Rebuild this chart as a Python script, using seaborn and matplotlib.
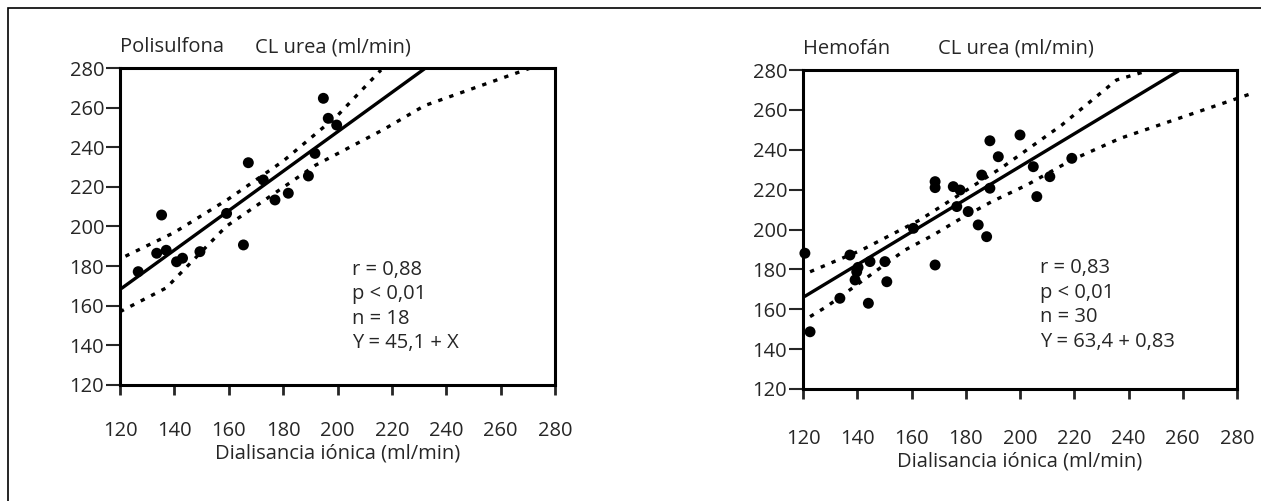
import matplotlib
matplotlib.use('Agg')
import matplotlib.pyplot as plt
import matplotlib.patches as mpatches
import pandas as pd
import seaborn as sns

# Polisulfona: dialisancia ionica (x) vs CL urea (y)
poli_x = [194.8, 196.6, 199.7, 191.7, 167.2, 172.7, 189.3, 177.0, 181.9,
          135.3, 159.2, 149.4, 140.8, 143.0, 133.5, 126.7, 165.4, 137.0]
poli_y = [264.7, 254.6, 251.2, 236.9, 232.2, 223.5, 225.5, 213.4, 216.8,
          205.8, 206.6, 187.3, 182.2, 184.0, 186.5, 177.2, 190.7, 188.0]
poli_fit_x = [120.6, 232.2]
poli_fit_y = [168.8, 279.8]
poli_up_x = [122, 140, 160, 180, 200, 216]
poli_up_y = [185, 197, 214, 233, 256, 279]
poli_lo_x = [120, 137, 159, 192, 217, 232, 271]
poli_lo_y = [157, 169, 200, 231, 249, 261, 280]
poli_stats = ['r = 0,88', 'p < 0,01', 'n = 18', 'Y = 45,1 + X']

# Hemofan
hemo_x = [188.9, 200.0, 192.0, 168.7, 168.7, 175.4, 177.9, 185.9, 188.9, 204.9,
          211.0, 219.1, 206.2, 176.7, 180.9, 184.6, 187.7, 160.7, 168.7, 150.2,
          150.9, 144.1, 137.3, 139.8, 144.7, 133.6, 139.2, 120.7, 122.6, 140.3]
hemo_y = [244.5, 247.4, 236.5, 224.0, 221.0, 221.5, 219.8, 227.3, 220.7, 231.5,
          226.5, 235.7, 216.5, 211.5, 209.0, 202.3, 196.4, 200.6, 182.2, 183.9,
          173.8, 163.0, 187.2, 178.8, 183.9, 165.5, 174.7, 188.1, 148.7, 181.0]
hemo_fit_x = [120.7, 259.0]
hemo_fit_y = [166.5, 280.0]
hemo_up_x = [122.6, 141.6, 163.1, 193.8, 215.4, 235.6, 248.0]
hemo_up_y = [178.8, 189.7, 204.8, 231.5, 252.4, 275.0, 280.0]
hemo_lo_x = [122.6, 128.7, 157.6, 168.0, 177.3, 189.6, 202.5, 219.1, 236.9, 286.0]
hemo_lo_y = [156.3, 161.3, 189.7, 197.2, 204.8, 214.0, 222.3, 234.9, 245.7, 268.5]
hemo_stats = ['r = 0,83', 'p < 0,01', 'n = 30', 'Y = 63,4 + 0,83']

ticks = [120, 140, 160, 180, 200, 220, 240, 260, 280]

sns.set_style('white')
plt.rcParams['font.family'] = ['Open Sans', 'DejaVu Sans']
fs = 14.5

fig = plt.figure(figsize=(12.61, 5.01), dpi=100)

# outer frame (only left and top edges are visible)
fig.patches.append(mpatches.Rectangle((8 / 1261, -0.1), 1.2, 1 - 8 / 501 + 0.1,
                                      transform=fig.transFigure, fill=False,
                                      edgecolor='black', linewidth=1.2))

panels = [
    ([120 / 1261, 1 - 385 / 501, 435 / 1261, 317 / 501], 'Polisulfona',
     poli_x, poli_y, poli_fit_x, poli_fit_y, poli_up_x, poli_up_y,
     poli_lo_x, poli_lo_y, poli_stats, 0.533, 0.363, 19, False),
    ([803 / 1261, 1 - 389 / 501, 434 / 1261, 319 / 501], 'Hemofán',
     hemo_x, hemo_y, hemo_fit_x, hemo_fit_y, hemo_up_x, hemo_up_y,
     hemo_lo_x, hemo_lo_y, hemo_stats, 0.546, 0.379, 21.5, True),
]

for (rect, name, px, py, fx, fy, ux, uy, lx, ly, stats, sx, sy, xpad, lo_out) in panels:
    ax = fig.add_axes(rect)
    df = pd.DataFrame({'x': px, 'y': py})
    sns.scatterplot(data=df, x='x', y='y', ax=ax, color='black', s=62,
                    edgecolor='none', clip_on=False)
    sns.lineplot(x=fx, y=fy, ax=ax, color='black', linewidth=2.4, sort=False)
    sns.lineplot(x=ux, y=uy, ax=ax, color='black', linewidth=2.4, sort=False,
                 linestyle=(0, (1.3, 2.2)))
    sns.lineplot(x=lx, y=ly, ax=ax, color='black', linewidth=2.4,
                 sort=False, linestyle=(0, (1.3, 2.2)))
    if lo_out:
        ax.lines[-1].set_clip_on(False)
    ax.set_xlim(120, 280)
    ax.set_ylim(120, 280)
    ax.set_xticks(ticks)
    ax.set_yticks(ticks)
    for sp in ax.spines.values():
        sp.set_linewidth(2.2)
        sp.set_color('black')
    ax.tick_params(axis='x', direction='out', length=7, width=2, pad=xpad,
                   bottom=True, labelsize=fs)
    ax.tick_params(axis='y', direction='out', length=10, width=1.5, pad=1.5,
                   left=True, labelsize=fs)
    ax.set_xlabel('Dialisancia iónica (ml/min)', labelpad=2, fontsize=fs)
    ax.set_ylabel('')
    ax.text(0.0, 1.066, name, transform=ax.transAxes, va='center', ha='left',
            fontsize=fs)
    ax.text(0.31, 1.066, 'CL urea (ml/min)', transform=ax.transAxes,
            va='center', ha='left', fontsize=fs)
    for i, s in enumerate(stats):
        ax.text(sx, sy - i * 0.0767, s, transform=ax.transAxes, va='center',
                ha='left', fontsize=fs)

fig.savefig('out.png', dpi=100)
